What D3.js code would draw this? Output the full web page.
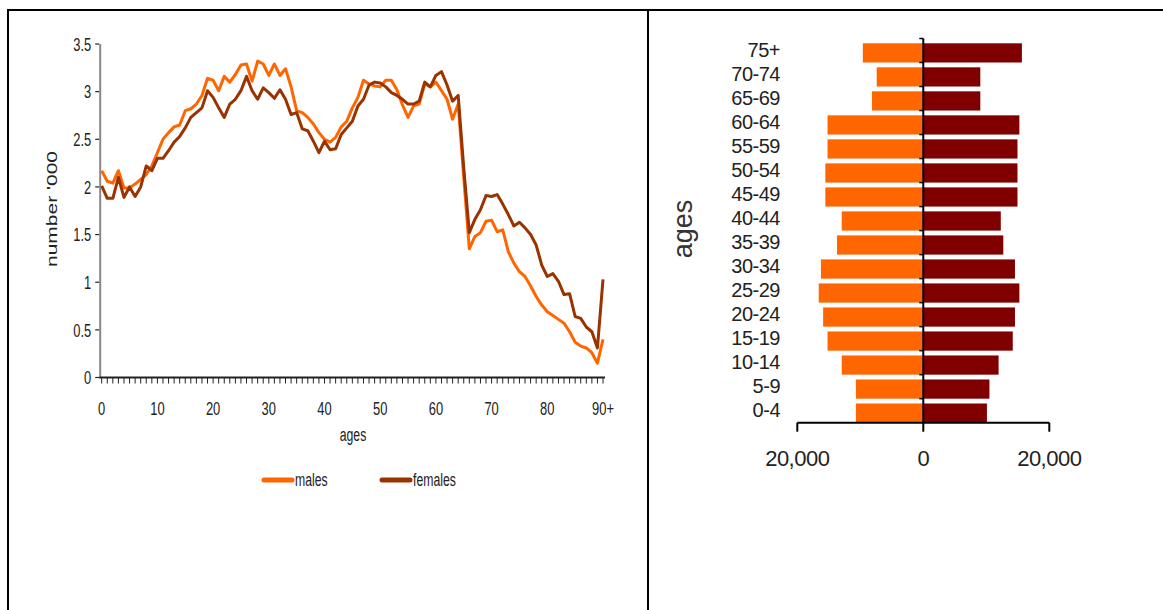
<!DOCTYPE html>
<html><head><meta charset="utf-8">
<script src="https://cdn.jsdelivr.net/npm/d3@7"></script>
<style>
html,body{margin:0;padding:0;background:#fff;}
svg{display:block;}
text{fill:#222;}
</style></head>
<body>
<svg id="c" width="1163" height="610"></svg>
<script>
// ---------- data ----------
const ages = d3.range(0, 91);
const males = [2.17,2.06,2.04,2.17,1.99,1.99,2.03,2.08,2.13,2.22,
 2.36,2.50,2.57,2.63,2.65,2.80,2.82,2.87,2.96,3.14,
 3.12,3.01,3.16,3.10,3.18,3.28,3.29,3.11,3.32,3.29,
 3.17,3.29,3.17,3.24,3.05,2.80,2.78,2.73,2.66,2.57,
 2.50,2.47,2.52,2.63,2.69,2.83,2.94,3.12,3.08,3.06,
 3.05,3.12,3.12,3.02,2.86,2.73,2.85,2.87,3.08,3.05,
 3.10,3.01,2.92,2.71,2.87,2.10,1.35,1.48,1.52,1.64,
 1.65,1.53,1.55,1.32,1.20,1.11,1.06,0.96,0.85,0.76,
 0.69,0.65,0.61,0.57,0.48,0.37,0.33,0.31,0.26,0.15,
 0.40];
const females = [2.01,1.88,1.88,2.10,1.89,2.00,1.90,2.00,2.22,2.17,
 2.30,2.30,2.38,2.47,2.53,2.62,2.73,2.78,2.83,3.01,
 2.94,2.83,2.73,2.87,2.92,3.01,3.16,3.01,2.92,3.04,
 2.99,2.93,3.02,2.92,2.76,2.78,2.61,2.59,2.48,2.36,
 2.48,2.39,2.40,2.55,2.62,2.69,2.85,2.92,3.07,3.10,
 3.09,3.05,2.99,2.96,2.92,2.87,2.87,2.90,3.10,3.05,
 3.17,3.21,3.07,2.90,2.96,2.20,1.52,1.66,1.76,1.91,
 1.90,1.92,1.82,1.71,1.59,1.63,1.57,1.50,1.39,1.18,
 1.06,1.09,1.01,0.87,0.88,0.64,0.62,0.53,0.48,0.31,
 1.03];
const yTicks = [0,0.5,1,1.5,2,2.5,3,3.5];
const xMajor = [0,10,20,30,40,50,60,70,80,90];
const xMajorLabels = ["0","10","20","30","40","50","60","70","80","90+"];
const seriesNames = ["males","females"];

const ageGroups = ["0-4","5-9","10-14","15-19","20-24","25-29","30-34","35-39","40-44","45-49","50-54","55-59","60-64","65-69","70-74","75+"];
const malesPop = [10700,10700,12950,15200,15900,16600,16250,13700,12950,15550,15550,15200,15200,8150,7400,9600];
const femalesPop = [10100,10500,11950,14200,14550,15250,14550,12700,12300,14950,14950,14950,15250,9050,9050,15650];
const popTicks = [-20000,0,20000];

const cMale = "#ff6600", cFemale = "#993300";
const cMaleBar = "#ff6600", cFemaleBar = "#800000";

const svg = d3.select("#c");

// ---------- frame ----------
svg.append("line").attr("x1",8).attr("x2",1163).attr("y1",10).attr("y2",10).attr("stroke","#000").attr("stroke-width",2);
svg.append("line").attr("x1",8).attr("x2",8).attr("y1",9).attr("y2",610).attr("stroke","#000").attr("stroke-width",2);
svg.append("line").attr("x1",648).attr("x2",648).attr("y1",9).attr("y2",610).attr("stroke","#000").attr("stroke-width",2);

// ---------- left: line chart ----------
const narrow = "'Liberation Sans', Arial, sans-serif";
const sx = 0.68; // condensed look
const x = d3.scaleLinear().domain([0,90]).range([101.7,603]);
const y = d3.scaleLinear().domain([0,3.5]).range([377.5,44]);

// y axis
const gy = svg.append("g").attr("transform",`translate(${x(0)-1.5},0)`);
gy.append("line").attr("y1",y(3.5)).attr("y2",y(0)).attr("stroke","#888").attr("stroke-width",2);
gy.selectAll("line.t").data(yTicks).join("line").attr("class","t")
  .attr("x1",-5).attr("x2",-1).attr("y1",d=>y(d)).attr("y2",d=>y(d)).attr("stroke","#222").attr("stroke-width",1.2);
gy.selectAll("text").data(yTicks).join("text")
  .attr("transform",d=>`translate(-9,${y(d)}) scale(${sx},1)`)
  .attr("text-anchor","end").attr("dy","0.36em")
  .style("font-family",narrow).style("font-size","19px")
  .text(d=>d3.format("")(d));

// x axis
const gx = svg.append("g").attr("transform",`translate(0,${y(0)})`);
gx.append("line").attr("x1",x(0)-2.5).attr("x2",x(90)+2).attr("stroke","#222").attr("stroke-width",2);
gx.selectAll("line.t").data(ages).join("line").attr("class","t")
  .attr("x1",d=>x(d)).attr("x2",d=>x(d)).attr("y1",0).attr("y2",6).attr("stroke","#222").attr("stroke-width",1);
gx.selectAll("text").data(xMajor).join("text")
  .attr("transform",(d,i)=>`translate(${x(d)},37) scale(${sx},1)`)
  .attr("text-anchor","middle")
  .style("font-family",narrow).style("font-size","19px")
  .text((d,i)=>xMajorLabels[i]);

svg.append("text").attr("transform",`translate(353,441) scale(${sx},1)`).attr("text-anchor","middle")
  .style("font-family",narrow).style("font-size","18px").text("ages");
svg.append("text").attr("transform",`translate(57,209) rotate(-90) scale(1,${sx})`).attr("text-anchor","middle")
  .style("font-family",narrow).style("font-size","21px").text("number '000");

// lines
const line = d3.line().x((d,i)=>x(ages[i])).y(d=>y(d));
svg.append("path").datum(males).attr("d",line).attr("fill","none").attr("stroke",cMale).attr("stroke-width",3).attr("stroke-linejoin","round");
svg.append("path").datum(females).attr("d",line).attr("fill","none").attr("stroke",cFemale).attr("stroke-width",3).attr("stroke-linejoin","round");

// legend
const legX = [264,382];
const legCol = [cMale,cFemale];
seriesNames.forEach((n,i)=>{
  svg.append("line").attr("x1",legX[i]).attr("x2",legX[i]+28).attr("y1",480).attr("y2",480)
    .attr("stroke",legCol[i]).attr("stroke-width",5).attr("stroke-linecap","round");
  svg.append("text").attr("transform",`translate(${legX[i]+31},486) scale(${sx},1)`)
    .style("font-family",narrow).style("font-size","18px").text(n);
});

// ---------- right: population pyramid ----------
const font2 = "'Liberation Sans', Arial, sans-serif";
const px = d3.scaleLinear().domain([-20000,20000]).range([797.3,1049.3]);
const pyDomain = ageGroups.slice().reverse();
const py = d3.scaleBand().domain(pyDomain).range([38.5,422.7]).paddingInner(0.2).paddingOuter(0.1).align(1);
const stepTop = 38.5;

svg.append("g").selectAll("rect").data(ageGroups).join("rect")
  .attr("x",(d,i)=>px(-malesPop[i])).attr("width",(d,i)=>px(0)-px(-malesPop[i]))
  .attr("y",d=>py(d)).attr("height",py.bandwidth()).attr("fill",cMaleBar);
svg.append("g").selectAll("rect").data(ageGroups).join("rect")
  .attr("x",px(0)).attr("width",(d,i)=>px(femalesPop[i])-px(0))
  .attr("y",d=>py(d)).attr("height",py.bandwidth()).attr("fill",cFemaleBar);

// vertical axis at 0
const bounds = d3.range(0, ageGroups.length+1).map(k=>stepTop + k*py.step());
svg.append("line").attr("x1",px(0)).attr("x2",px(0)).attr("y1",bounds[0]).attr("y2",422.7).attr("stroke","#000").attr("stroke-width",2);
svg.append("g").selectAll("line").data(bounds.slice(0,-1)).join("line")
  .attr("x1",px(0)-4).attr("x2",px(0)).attr("y1",d=>d).attr("y2",d=>d).attr("stroke","#000").attr("stroke-width",1.5);
svg.append("g").selectAll("text").data(ageGroups).join("text")
  .attr("x",780).attr("y",d=>py(d)+py.bandwidth()/2-3.5).attr("dy","0.36em").attr("text-anchor","end")
  .style("font-family",font2).style("font-size","20px").style("letter-spacing","-0.5px").text(d=>d);

// horizontal axis
const ax = svg.append("g").attr("transform","translate(0,422.7)");
ax.append("line").attr("x1",px(-20000)).attr("x2",px(20000)).attr("stroke","#000").attr("stroke-width",2);
ax.selectAll("line.t").data(popTicks).join("line").attr("class","t")
  .attr("x1",d=>px(d)).attr("x2",d=>px(d)).attr("y1",0).attr("y2",9).attr("stroke","#000").attr("stroke-width",2);
ax.selectAll("text").data(popTicks).join("text")
  .attr("x",d=>px(d)).attr("y",43).attr("text-anchor","middle")
  .style("font-family",font2).style("font-size","22px").style("letter-spacing","-0.5px").text(d=>d3.format(",")(Math.abs(d)));

svg.append("text").attr("transform","translate(692,229) rotate(-90)").attr("text-anchor","middle")
  .style("font-family",font2).style("font-size","27px").style("fill","#333").text("ages");
</script>
</body></html>
